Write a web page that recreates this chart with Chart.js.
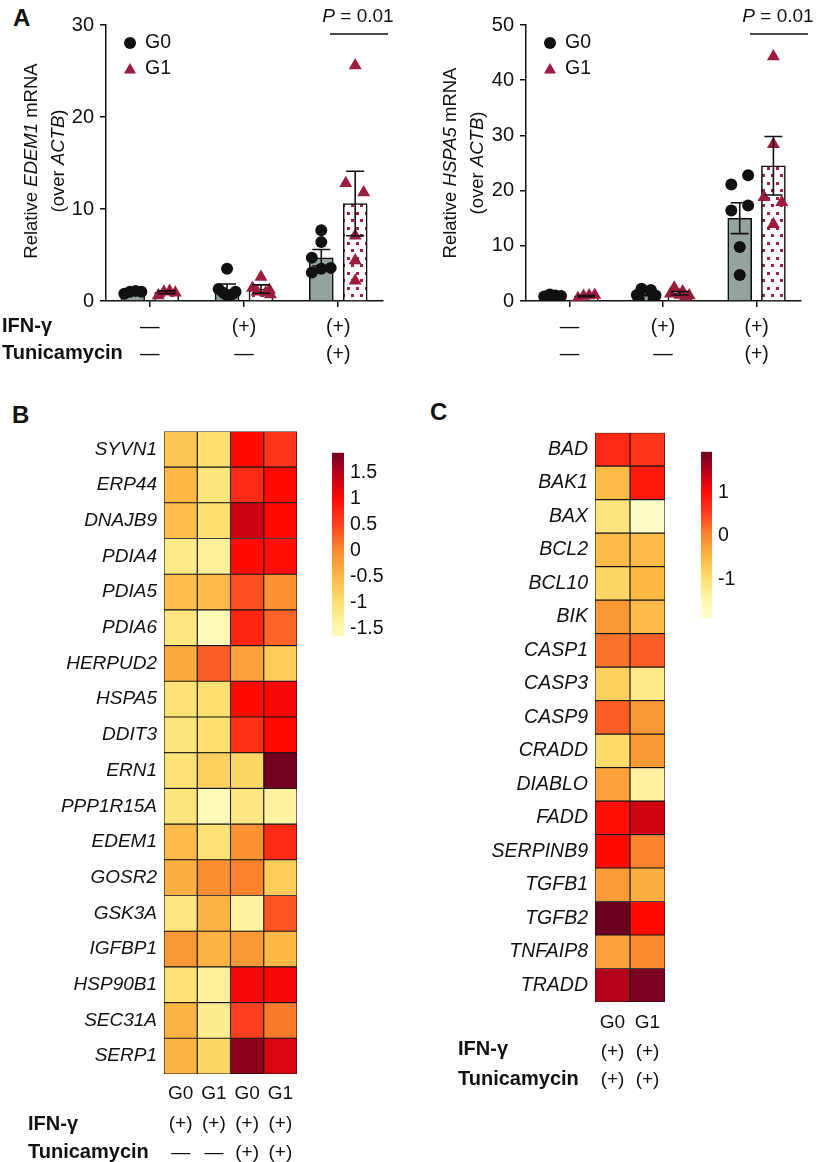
<!DOCTYPE html>
<html><head><meta charset="utf-8">
<script src="https://cdn.jsdelivr.net/npm/chart.js@4.4.1/dist/chart.umd.min.js"></script>
<style>
body{margin:0;width:817px;height:1162px;position:relative;background:#fff;font-family:"Liberation Sans",Arial,Helvetica,sans-serif;color:#111;overflow:hidden}
canvas{position:absolute}
.t{position:absolute;white-space:nowrap;line-height:1;transform:translateY(-50%)}
.b{font-weight:bold}
.yt{position:absolute;text-align:center;font-size:18.5px;line-height:27px;transform:rotate(-90deg);white-space:nowrap}
</style></head><body>
<canvas id="a1" width="370" height="380" style="left:40px;top:0;width:370px;height:380px"></canvas>
<canvas id="a2" width="357" height="380" style="left:460px;top:0;width:357px;height:380px"></canvas>
<canvas id="hb" width="240" height="749" style="left:60px;top:413px;width:240px;height:749px"></canvas>
<canvas id="cbB" width="62" height="219" style="left:332px;top:435px;width:62px;height:219px"></canvas>
<canvas id="hc" width="200" height="688" style="left:470px;top:414px;width:200px;height:688px"></canvas>
<canvas id="cbC" width="51" height="202" style="left:701px;top:434px;width:51px;height:202px"></canvas>

<div class="t b" style="left:13px;top:18px;font-size:24px">A</div>
<div class="t b" style="left:12px;top:415px;font-size:24px">B</div>
<div class="t b" style="left:430px;top:412px;font-size:24px">C</div>

<div class="yt" style="left:-86px;top:134px;width:260px;height:54px">Relative <i>EDEM1</i> mRNA<br>(over <i>ACTB</i>)</div>
<div class="yt" style="left:333px;top:136px;width:260px;height:54px">Relative <i>HSPA5</i> mRNA<br>(over <i>ACTB</i>)</div>

<div class="t b" style="left:2px;top:325px;font-size:20px">IFN-γ</div>
<div class="t b" style="left:2px;top:352px;font-size:20px">Tunicamycin</div>
<div class="t b" style="left:28px;top:1123px;font-size:20px">IFN-γ</div>
<div class="t b" style="left:28px;top:1151px;font-size:20px">Tunicamycin</div>
<div class="t b" style="left:458px;top:1048px;font-size:20px">IFN-γ</div>
<div class="t b" style="left:458px;top:1078px;font-size:20px">Tunicamycin</div>

<script>
// ---------- Panel A data ----------
const groupLabels = [['—','—'], ['(+)','—'], ['(+)','(+)']];
const seriesNames = ['G0', 'G1'];

const edem1G0Mean = [1.0, 1.25, 4.7];
const edem1G0Sem  = [0.08, 0.6, 0.9];
const edem1G1Mean = [0.95, 1.3, 10.6];
const edem1G1Sem  = [0.15, 0.45, 3.5];
const edem1G0Pts = [[0.8, 1.0, 1.1, 1.0], [3.5, 1.3, 1.0, 0.9, 0.7, 0.6], [7.7, 6.4, 4.7, 3.6, 3.5, 3.1]];
const edem1G1Pts = [[0.6, 1.0, 1.1, 0.9], [2.6, 1.4, 1.2, 1.0, 0.9, 0.7], [25.6, 12.8, 11.8, 7.1, 4.4, 2.2]];

const hspa5G0Mean = [0.95, 1.3, 15.0];
const hspa5G0Sem  = [0.1, 0.35, 2.8];
const hspa5G1Mean = [0.9, 1.4, 24.5];
const hspa5G1Sem  = [0.1, 0.3, 5.3];
const hspa5G0Pts = [[0.8, 1.2, 1.0, 0.9], [2.2, 2.0, 1.1, 0.4, 0.4, 1.0], [21.1, 22.8, 16.4, 17.3, 9.8, 4.7]];
const hspa5G1Pts = [[0.5, 0.9, 1.0, 1.1], [2.4, 1.7, 1.3, 1.0, 0.8, 1.1], [44.3, 28.4, 18.8, 17.9, 13.9]];

// horizontal jitter (layout only, in category units)
const jitEdemG0 = [[-0.09, -0.03, 0.03, 0.09], [0, -0.09, 0.09, -0.04, 0.05, 0], [0, 0, -0.1, 0.1, 0, -0.1]];
const jitEdemG1 = [[-0.09, -0.03, 0.03, 0.09], [0, -0.09, 0.09, -0.04, 0.05, 0.1], [0, -0.1, 0.09, 0, 0, 0]];
const jitHspG0 = [[-0.09, -0.03, 0.03, 0.09], [-0.05, 0.05, -0.1, -0.08, 0.08, 0.1], [-0.09, 0.09, -0.09, 0.09, 0, 0]];
const jitHspG1 = [[-0.09, -0.03, 0.03, 0.09], [-0.06, 0.03, -0.1, 0.1, 0.06, 0], [0, 0, -0.1, 0.09, 0]];

// ---------- Panel B data ----------
const bGenes = ['SYVN1','ERP44','DNAJB9','PDIA4','PDIA5','PDIA6','HERPUD2','HSPA5','DDIT3','ERN1','PPP1R15A','EDEM1','GOSR2','GSK3A','IGFBP1','HSP90B1','SEC31A','SERP1'];
const bG0Ifn    = [-0.7,-0.5,-0.6,-1.2,-0.6,-1.15,-0.35,-1.05,-1.1,-1.05,-1.1,-0.55,-0.4,-1.15,-0.15,-1.05,-0.45,-0.45];
const bG1Ifn    = [-1.0,-1.1,-1.0,-1.35,-0.55,-1.6,0.3,-1.0,-1.0,-0.8,-1.6,-1.05,-0.05,-0.45,-0.45,-1.35,-1.25,-0.9];
const bG0IfnTun = [1.0,0.7,1.35,1.0,0.4,0.75,-0.25,1.0,0.65,-0.9,-1.15,-0.1,0.05,-1.4,-0.15,1.05,0.5,1.75];
const bG1IfnTun = [0.6,1.0,1.0,0.95,-0.1,0.25,-0.75,1.05,1.0,1.88,-1.4,0.7,-0.75,0.35,-0.5,1.05,0.1,1.25];
const bColLabels = [['G0','(+)','—'], ['G1','(+)','—'], ['G0','(+)','(+)'], ['G1','(+)','(+)']];
const bScaleMin = -1.65, bScaleMax = 1.88;
const bScaleTicks = [-1.5, -1, -0.5, 0, 0.5, 1, 1.5];

// ---------- Panel C data ----------
const cGenes = ['BAD','BAK1','BAX','BCL2','BCL10','BIK','CASP1','CASP3','CASP9','CRADD','DIABLO','FADD','SERPINB9','TGFB1','TGFB2','TNFAIP8','TRADD'];
const cG0 = [0.7,-0.55,-1.1,-0.55,-0.9,-0.15,0.15,-0.8,0.3,-0.95,-0.25,0.95,1.0,-0.2,1.93,-0.25,1.5];
const cG1 = [0.6,0.85,-1.85,-0.55,-0.5,-0.55,0.3,-1.2,-0.15,-0.15,-1.4,1.3,0.05,-0.4,1.0,0.0,1.85];
const cColLabels = [['G0','(+)','(+)'], ['G1','(+)','(+)']];
const cScaleMin = -1.9, cScaleMax = 1.93;
const cScaleTicks = [-1, 0, 1];

// ---------- helpers ----------
const FONT = '"Liberation Sans", Arial, Helvetica, sans-serif';
const INK = '#111';
const heatStops = [[-1.9,'#FFFFCC'],[-1.5,'#FFF8B0'],[-1,'#FDE070'],[-0.5,'#FDB845'],[0,'#FA8A30'],[0.5,'#FF4020'],[1,'#FF0A05'],[1.5,'#B5001A'],[1.93,'#6B0020']];
function hex2rgb(h){return [1,3,5].map(i=>parseInt(h.substr(i,2),16));}
function heat(v){
  if (v <= heatStops[0][0]) return heatStops[0][1];
  for (let i=1;i<heatStops.length;i++){
    if (v <= heatStops[i][0]){
      const [v0,c0]=heatStops[i-1],[v1,c1]=heatStops[i];
      const f=(v-v0)/(v1-v0), a=hex2rgb(c0), b=hex2rgb(c1);
      return 'rgb('+a.map((x,k)=>Math.round(x+(b[k]-x)*f)).join(',')+')';
    }
  }
  return heatStops[heatStops.length-1][1];
}

function dotPattern(ctx){
  const c=document.createElement('canvas'); c.width=9; c.height=15;
  const g=c.getContext('2d'); g.fillStyle='#fff'; g.fillRect(0,0,9,15);
  g.fillStyle='#A3204A'; g.fillRect(1,2,3,3); g.fillRect(5,9,3,3);
  return ctx.createPattern(c,'repeat');
}

function panelA(id, g0Mean, g0Sem, g0Pts, g0Jit, g1Mean, g1Sem, g1Pts, g1Jit, yMax, yStep){
  const el=document.getElementById(id); const ctx=el.getContext('2d');
  const off=0.18;
  const pts=(arr,jit,sgn)=>arr.flatMap((g,i)=>g.map((v,k)=>({x:i+sgn*off+jit[i][k], y:v})));
  const bars=(means,sgn)=>means.map((m,i)=>({x:i+sgn*off, y:m}));
  const sems=[g0Sem,g1Sem];
  const overlay={
    id:'overlay',
    afterDatasetsDraw(chart){
      const c=chart.ctx, y=chart.scales.y, a=chart.chartArea;
      c.save(); c.strokeStyle=INK; c.lineWidth=1.6;
      [0,1].forEach(di=>{
        chart.getDatasetMeta(di).data.forEach((bar,i)=>{
          const m=chart.data.datasets[di].data[i].y, s=sems[di][i];
          const yt=y.getPixelForValue(m+s), yb=y.getPixelForValue(Math.max(0,m-s));
          c.beginPath(); c.moveTo(bar.x,yb); c.lineTo(bar.x,yt);
          c.moveTo(bar.x-9,yt); c.lineTo(bar.x+9,yt);
          c.moveTo(bar.x-9,yb); c.lineTo(bar.x+9,yb); c.stroke();
        });
      });
      // legend
      c.fillStyle=INK; c.beginPath(); c.arc(a.left+24,a.top+18,6,0,Math.PI*2); c.fill();
      c.fillStyle='#9B1C3C'; c.beginPath();
      const tx=a.left+24, ty=a.top+45, r=7;
      c.moveTo(tx,ty-r); c.lineTo(tx+r*0.866,ty+r*0.5); c.lineTo(tx-r*0.866,ty+r*0.5); c.closePath(); c.fill();
      c.fillStyle=INK; c.font='19.5px '+FONT; c.textBaseline='middle'; c.textAlign='left';
      c.fillText(seriesNames[0],a.left+39,a.top+18); c.fillText(seriesNames[1],a.left+39,a.top+44);
      // significance
      const cx=a.left+252, cy=a.top-8;
      c.font='italic 19px '+FONT; const wP=c.measureText('P').width;
      c.font='19px '+FONT; const wR=c.measureText(' = 0.01').width;
      const x0=cx-(wP+wR)/2;
      c.font='italic 19px '+FONT; c.fillText('P',x0,cy);
      c.font='19px '+FONT; c.fillText(' = 0.01',x0+wP,cy);
      c.lineWidth=1.3; c.beginPath(); c.moveTo(a.left+224,a.top+9); c.lineTo(a.left+282,a.top+9); c.stroke();
      c.restore();
    }
  };
  return new Chart(el,{
    type:'bar',
    data:{datasets:[
      {label:'G0', data:bars(g0Mean,-1), backgroundColor:'#95A39E', borderColor:INK, borderWidth:1.6, barThickness:24, grouped:false, order:2},
      {label:'G1', data:bars(g1Mean,1), backgroundColor:dotPattern(ctx), borderColor:INK, borderWidth:1.6, barThickness:24, grouped:false, order:2},
      {type:'scatter', label:'G0 pts', data:pts(g0Pts,g0Jit,-1), pointStyle:'circle', pointRadius:6, backgroundColor:INK, borderWidth:0, order:1},
      {type:'scatter', label:'G1 pts', data:pts(g1Pts,g1Jit,1), pointStyle:'triangle', pointRadius:7.5, backgroundColor:'#9B1C3C', borderWidth:0, order:1}
    ]},
    options:{
      responsive:false, animation:false, devicePixelRatio:1, events:[],
      layout:{padding:{top:25,right:id==='a1'?27:16,left:0,bottom:0}},
      plugins:{legend:{display:false}, tooltip:{enabled:false}},
      scales:{
        x:{type:'linear', min:-0.465, max:2.475, offset:false,
           afterBuildTicks(s){s.ticks=groupLabels.map((l,i)=>({value:i}));},
           afterFit(s){s.height=79;},
           grid:{display:true,drawOnChartArea:false,offset:false,tickLength:6,color:INK,lineWidth:1.5},
           border:{display:true,color:INK,width:1.5},
           ticks:{callback:(v,i)=>groupLabels[i], font:{family:FONT,size:19.5,lineHeight:1.4},color:INK,padding:7,maxRotation:0,autoSkip:false}},
        y:{min:0,max:yMax, afterFit(s){s.width=66;},
           ticks:{stepSize:yStep,font:{family:FONT,size:20},color:INK,padding:6},
           grid:{display:true,drawOnChartArea:false,tickLength:6,color:INK,lineWidth:1.5},
           border:{display:true,color:INK,width:1.5}}
      }
    },
    plugins:[overlay]
  });
}

panelA('a1', edem1G0Mean, edem1G0Sem, edem1G0Pts, jitEdemG0, edem1G1Mean, edem1G1Sem, edem1G1Pts, jitEdemG1, 30, 10);
panelA('a2', hspa5G0Mean, hspa5G0Sem, hspa5G0Pts, jitHspG0, hspa5G1Mean, hspa5G1Sem, hspa5G1Pts, jitHspG1, 50, 10);

function heatmap(id, genes, cols, colLabels, o){
  return new Chart(document.getElementById(id),{
    type:'bar',
    data:{labels:genes, datasets:cols.map((vals,ci)=>({
      data:vals.map(()=>[ci,ci+1]),
      backgroundColor:vals.map(v=>heat(v)),
      borderColor:'#151515', borderWidth:0.9, borderSkipped:false,
      grouped:false, barPercentage:1, categoryPercentage:1
    }))},
    options:{
      indexAxis:'y', responsive:false, animation:false, devicePixelRatio:1, events:[],
      layout:{padding:{top:o.padTop,right:o.padRight,left:0,bottom:0}},
      plugins:{legend:{display:false}, tooltip:{enabled:false}},
      scales:{
        x:{type:'linear', min:0, max:cols.length,
           afterBuildTicks(s){s.ticks=cols.map((c,i)=>({value:i+0.5}));},
           afterFit(s){s.height=o.xh;},
           grid:{display:false,drawTicks:false}, border:{display:false},
           ticks:{callback:(v,i)=>colLabels[i], font:{family:FONT,size:19,lineHeight:o.lh}, color:INK, padding:o.xpad, maxRotation:0, autoSkip:false}},
        y:{afterFit(s){s.width=o.yw;}, grid:{display:false,drawTicks:false}, border:{display:false},
           ticks:{font:{family:FONT,size:o.fs,style:'italic'}, color:INK, padding:7, autoSkip:false}}
      }
    }
  });
}
heatmap('hb', bGenes, [bG0Ifn,bG1Ifn,bG0IfnTun,bG1IfnTun], bColLabels, {padTop:10,padRight:3,xh:88,yw:104,lh:1.56,xpad:5,fs:19});
heatmap('hc', cGenes, [cG0,cG1], cColLabels, {padTop:10,padRight:5,xh:100,yw:125,lh:1.52,xpad:6,fs:19.5});

function colorbar(id, vmin, vmax, ticks, yw){
  return new Chart(document.getElementById(id),{
    type:'bar',
    data:{labels:[''], datasets:[{data:[[vmin,vmax]], borderWidth:0, barPercentage:1, categoryPercentage:1,
      backgroundColor(ctx){
        const ch=ctx.chart, y=ch.scales.y; if(!y) return '#fff';
        const y0=y.getPixelForValue(vmin), y1=y.getPixelForValue(vmax);
        if(!isFinite(y0)||!isFinite(y1)) return '#fff';
        const g=ch.ctx.createLinearGradient(0,y0,0,y1);
        for(let k=0;k<=40;k++){const v=vmin+(vmax-vmin)*k/40; g.addColorStop(k/40,heat(v));}
        return g;
      }}]},
    options:{responsive:false, animation:false, devicePixelRatio:1, events:[],
      layout:{padding:{top:0,bottom:0,left:0,right:0}},
      plugins:{legend:{display:false}, tooltip:{enabled:false}},
      scales:{x:{display:false},
        y:{position:'right', min:vmin, max:vmax, afterFit(s){s.width=yw;},
           afterBuildTicks(s){s.ticks=ticks.map(v=>({value:v}));},
           grid:{display:false,drawTicks:false}, border:{display:false},
           ticks:{callback:v=>String(v), font:{family:FONT,size:19.5}, color:INK, padding:6}}}
    }
  });
}
colorbar('cbB', bScaleMin, bScaleMax, bScaleTicks, 50);
colorbar('cbC', cScaleMin, cScaleMax, cScaleTicks, 40);
</script>
</body></html>
